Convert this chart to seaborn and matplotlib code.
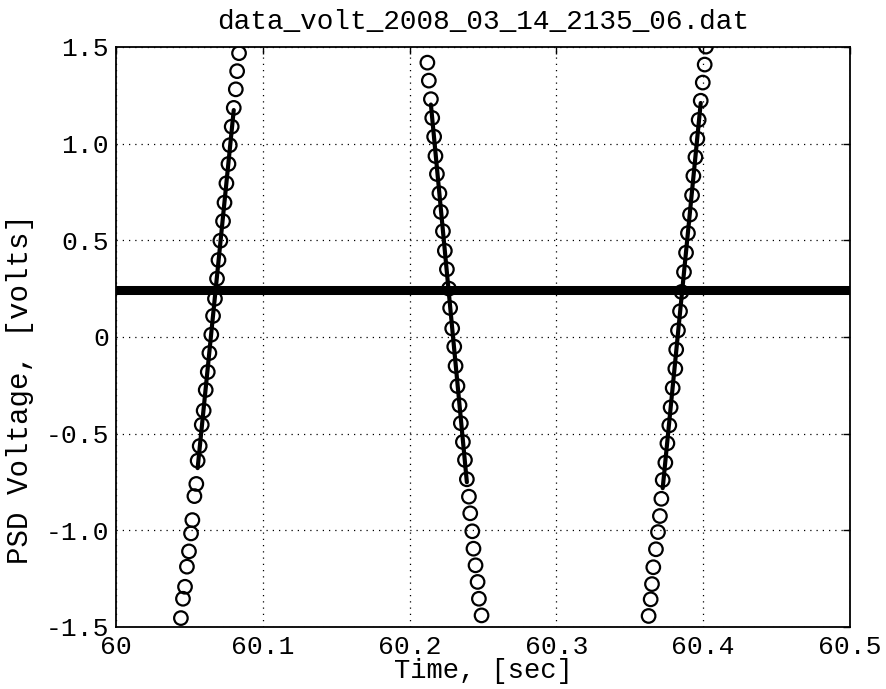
import numpy as np
import pandas as pd
import matplotlib
matplotlib.use("Agg")
import matplotlib.pyplot as plt
import seaborn as sns

# Sampled PSD voltage around three sawtooth edges
time_c1 = [60.0838, 60.0825, 60.0816, 60.0802, 60.0788, 60.0775, 60.0766, 60.0752,
           60.0739, 60.0729, 60.0711, 60.0698, 60.0688, 60.0674, 60.0661, 60.0649,
           60.0636, 60.0625, 60.0611, 60.0597, 60.0584, 60.0570, 60.0556, 60.0547,
           60.0534, 60.0520, 60.0511, 60.0497, 60.0483, 60.0470, 60.0456, 60.0442]
volt_c1 = [1.468, 1.375, 1.281, 1.185, 1.088, 0.992, 0.895, 0.795,
           0.695, 0.599, 0.498, 0.398, 0.302, 0.198, 0.109, 0.012,
           -0.083, -0.181, -0.274, -0.381, -0.454, -0.564, -0.640, -0.760,
           -0.823, -0.947, -1.016, -1.109, -1.188, -1.292, -1.354, -1.454]

time_c2 = [60.2121, 60.2131, 60.2145, 60.2154, 60.2167, 60.2176, 60.2186, 60.2203,
           60.2213, 60.2227, 60.2240, 60.2254, 60.2268, 60.2276, 60.2290, 60.2304,
           60.2313, 60.2326, 60.2340, 60.2349, 60.2363, 60.2377, 60.2390, 60.2404,
           60.2413, 60.2427, 60.2435, 60.2449, 60.2463, 60.2472, 60.2490]
volt_c2 = [1.419, 1.326, 1.230, 1.133, 1.036, 0.936, 0.843, 0.743,
           0.647, 0.547, 0.446, 0.350, 0.250, 0.150, 0.044, -0.050,
           -0.150, -0.254, -0.353, -0.446, -0.543, -0.636, -0.736, -0.826,
           -0.912, -1.005, -1.095, -1.181, -1.267, -1.354, -1.440]

time_c3 = [60.4019, 60.4010, 60.3997, 60.3983, 60.3969, 60.3960, 60.3947, 60.3933,
           60.3924, 60.3910, 60.3896, 60.3883, 60.3869, 60.3852, 60.3842, 60.3828,
           60.3816, 60.3810, 60.3792, 60.3778, 60.3769, 60.3756, 60.3742, 60.3724,
           60.3715, 60.3705, 60.3692, 60.3678, 60.3660, 60.3651, 60.3642, 60.3628]
volt_c3 = [1.502, 1.409, 1.316, 1.222, 1.123, 1.026, 0.930, 0.833,
           0.733, 0.633, 0.537, 0.436, 0.336, 0.233, 0.133, 0.034,
           -0.065, -0.164, -0.264, -0.364, -0.457, -0.550, -0.650, -0.740,
           -0.837, -0.926, -1.009, -1.098, -1.191, -1.278, -1.357, -1.443]

# Trigger level and the voltage window used for the linear fits
threshold = 0.245
fit_lo, fit_hi = -0.75, 1.25

x_ticks = [60.0, 60.1, 60.2, 60.3, 60.4, 60.5]
x_tick_labels = ["60", "60.1", "60.2", "60.3", "60.4", "60.5"]
y_ticks = [-1.5, -1.0, -0.5, 0.0, 0.5, 1.0, 1.5]
y_tick_labels = ["-1.5", "-1.0", "-0.5", "0", "0.5", "1.0", "1.5"]

samples = pd.concat([
    pd.DataFrame({"t": time_c1, "v": volt_c1, "cycle": 1}),
    pd.DataFrame({"t": time_c2, "v": volt_c2, "cycle": 2}),
    pd.DataFrame({"t": time_c3, "v": volt_c3, "cycle": 3}),
], ignore_index=True)

# Straight-line fit to each edge inside the voltage window
fit_rows = []
for cyc, grp in samples.groupby("cycle"):
    sel = grp[(grp.v >= fit_lo) & (grp.v <= fit_hi)]
    slope, icpt = np.polyfit(sel.t, sel.v, 1)
    for t in (sel.t.min(), sel.t.max()):
        fit_rows.append({"t": t, "v": slope * t + icpt, "cycle": cyc})
fits = pd.DataFrame(fit_rows)

sns.set_theme(style="white")
plt.rcParams["font.family"] = ["Liberation Mono", "DejaVu Sans Mono"]

fig = plt.figure(figsize=(8.87, 6.89), dpi=100)
ax = fig.add_axes([0.1308, 0.0900, 0.8275, 0.8418])

ax.axhline(threshold, color="black", lw=6.5, zorder=2)

sns.lineplot(data=fits, x="t", y="v", units="cycle", estimator=None, sort=False,
             color="black", lw=3.0, ax=ax, zorder=4)
sns.scatterplot(data=samples, x="t", y="v", ax=ax, marker="o", s=95,
                facecolor="none", edgecolor="black", linewidth=1.6, zorder=5)

ax.set_xlim(60.0, 60.5)
ax.set_ylim(-1.5, 1.5)
ax.set_xticks(x_ticks)
ax.set_xticklabels(x_tick_labels)
ax.set_yticks(y_ticks)
ax.set_yticklabels(y_tick_labels)

ax.grid(True, color="black", linestyle=(0, (1, 4)), linewidth=0.9)
ax.set_axisbelow(True)
for side in ax.spines.values():
    side.set_color("black")
    side.set_linewidth(1.3)

ax.tick_params(direction="in", length=5, width=1, top=True, right=True,
               labelsize=19, colors="black", pad=5)
ax.tick_params(axis="x", pad=6)

ax.set_xlabel("Time, [sec]", fontsize=19.5, labelpad=-1, color="black")
ax.set_ylabel("PSD Voltage, [volts]", fontsize=21, labelpad=8, color="black",
              y=0.41, ha="center")
ax.set_title("data_volt_2008_03_14_2135_06.dat", fontsize=20, pad=13, color="black")

fig.savefig("out.png", dpi=100, facecolor="white")
